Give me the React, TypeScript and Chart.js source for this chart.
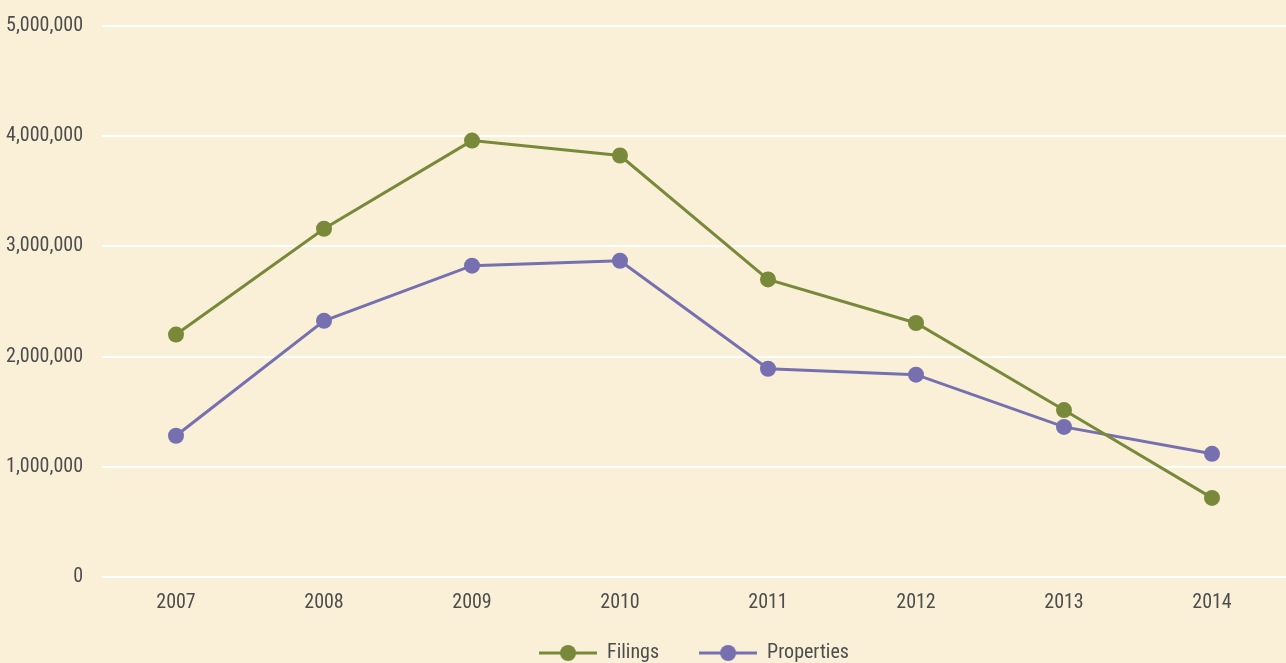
import React, { useEffect, useRef } from "react";
import { Chart, registerables } from "chart.js";

Chart.register(...registerables);

const years = ["2007", "2008", "2009", "2010", "2011", "2012", "2013", "2014"];
const filings = [2200000, 3160000, 3960000, 3825000, 2700000, 2305000, 1515000, 718000];
const properties = [1282000, 2325000, 2825000, 2870000, 1890000, 1836000, 1362000, 1118000];
const yTicks = [0, 1000000, 2000000, 3000000, 4000000, 5000000];

const BG = "#FAF0D8";
const GREEN = "#78893A";
const PURPLE = "#7770B0";
const TEXT = "#4d4d4d";
const FONT = "'Roboto Condensed', 'Liberation Sans Narrow', sans-serif";

function legendIcon(color: string) {
  const c = document.createElement("canvas");
  c.width = 58;
  c.height = 18;
  const ctx = c.getContext("2d")!;
  ctx.strokeStyle = color;
  ctx.lineWidth = 3;
  ctx.beginPath();
  ctx.moveTo(0, 9);
  ctx.lineTo(58, 9);
  ctx.stroke();
  ctx.fillStyle = color;
  ctx.beginPath();
  ctx.arc(29, 9, 8, 0, Math.PI * 2);
  ctx.fill();
  return c;
}

// moves the legend box up so it sits just under the x-axis labels
const legendPlacer = {
  id: "legendPlacer",
  afterLayout(chart: any) {
    const lg = chart.legend;
    if (!lg) return;
    const h = lg.bottom - lg.top;
    lg.top = chart.chartArea.bottom + 26;
    lg.bottom = lg.top + h;
  },
};

export default function App() {
  const ref = useRef<HTMLCanvasElement | null>(null);
  useEffect(() => {
    if (!ref.current) return;
    const icons = [legendIcon(GREEN), legendIcon(PURPLE)];
    const chart = new Chart(ref.current, {
      type: "line",
      data: {
        labels: years,
        datasets: [
          {
            label: "Filings",
            data: filings,
            borderColor: GREEN,
            backgroundColor: GREEN,
            borderWidth: 3,
            pointRadius: 8,
            pointHoverRadius: 8,
            pointBorderWidth: 0,
            pointBackgroundColor: GREEN,
            tension: 0,
          },
          {
            label: "Properties",
            data: properties,
            borderColor: PURPLE,
            backgroundColor: PURPLE,
            borderWidth: 3,
            pointRadius: 8,
            pointHoverRadius: 8,
            pointBorderWidth: 0,
            pointBackgroundColor: PURPLE,
            tension: 0,
          },
        ],
      },
      plugins: [legendPlacer],
      options: {
        animation: false,
        responsive: true,
        maintainAspectRatio: false,
        layout: { padding: { top: 26, left: 0, right: 0, bottom: -36 } },
        plugins: {
          tooltip: { enabled: false },
          legend: {
            position: "bottom",
            fullSize: false,
            labels: {
              usePointStyle: true,
              pointStyleWidth: 58,
              boxHeight: 18,
              color: TEXT,
              padding: 40,
              font: { family: FONT, size: 20 },
              generateLabels: (ch: any) =>
                ch.data.datasets.map((ds: any, i: number) => ({
                  text: ds.label,
                  fillStyle: ds.borderColor,
                  strokeStyle: ds.borderColor,
                  lineWidth: 0,
                  pointStyle: icons[i],
                  fontColor: TEXT,
                  hidden: false,
                  datasetIndex: i,
                })),
            },
          },
        },
        scales: {
          x: {
            offset: true,
            afterFit: (scale: any) => {
              scale.paddingLeft = 0;
              scale.paddingRight = 0;
            },
            grid: { display: false, drawTicks: false },
            border: { display: false },
            ticks: { color: TEXT, padding: 14, font: { family: FONT, size: 20 } },
          },
          y: {
            min: 0,
            max: 5000000,
            afterFit: (scale: any) => {
              scale.width = 102;
              scale.paddingTop = 0;
              scale.paddingBottom = 0;
            },
            afterBuildTicks: (scale: any) => {
              scale.ticks = yTicks.map((v) => ({ value: v }));
            },
            grid: { color: "#FFFFFF", lineWidth: 2, drawTicks: false },
            border: { display: false },
            ticks: {
              color: TEXT,
              padding: 19,
              font: { family: FONT, size: 20 },
              callback: (v: any) => Number(v).toLocaleString("en-US"),
            },
          },
        },
      },
    });
    return () => chart.destroy();
  }, []);
  return (
    <div
      style={{
        position: "absolute",
        left: 0,
        top: 0,
        width: 1286,
        height: 663,
        background: BG,
        overflow: "hidden",
      }}
    >
      <div style={{ width: 1294, height: 663 }}>
        <canvas ref={ref} />
      </div>
    </div>
  );
}
